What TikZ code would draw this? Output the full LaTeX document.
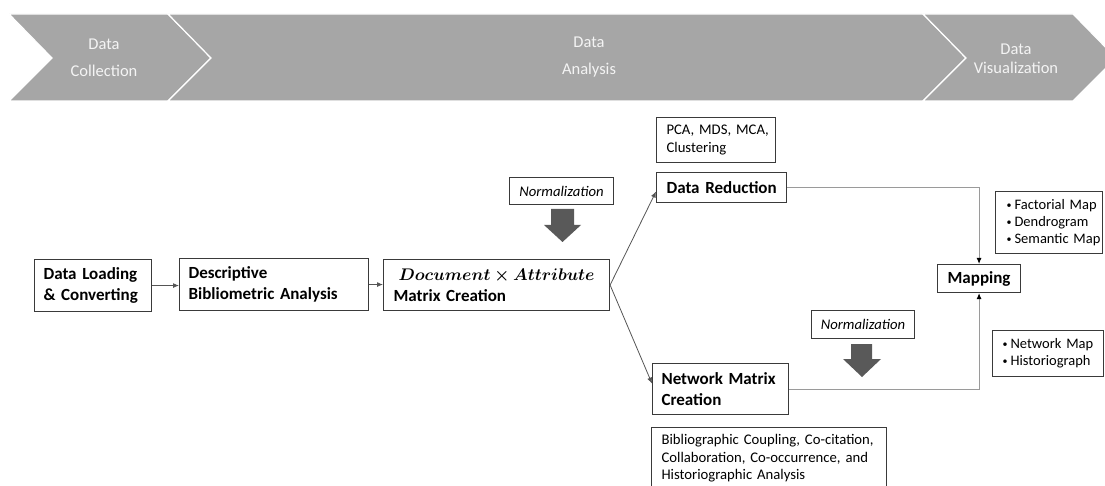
\documentclass[tikz,border=0pt]{standalone}
\usepackage{fontspec}
\setmainfont{Carlito}
\usepackage{amsmath}
\usepackage{bm}
\usepackage{graphicx}
\usetikzlibrary{arrows.meta}
\hyphenpenalty=10000
\exhyphenpenalty=10000
\newcommand{\lind}[1]{\hspace*{#1pt}}
\newcommand{\bul}{\makebox[8pt][l]{\fontsize{10}{10}\selectfont\raisebox{1pt}{\textbullet}}}
\definecolor{bannergray}{HTML}{A6A6A6}
\definecolor{bantxt}{HTML}{F4F4F4}
\definecolor{boxc}{HTML}{3A3A3A}
\definecolor{blockc}{HTML}{595959}
\definecolor{linec}{HTML}{9A9A9A}
\definecolor{darkline}{HTML}{555555}
\begin{document}
\begin{tikzpicture}[x=1pt,y=-1pt,
 box/.style={draw=boxc,line width=1.1pt,anchor=north west,inner ysep=0pt,inner xsep=2pt,align=left,text=black},
 cbox/.style={draw=boxc,line width=1.1pt,anchor=north west,inner sep=0pt,align=center,text=black},
 boldtxt/.style={font=\fontsize{17}{20.5}\selectfont\bfseries},
 regtxt/.style={font=\fontsize{14.7}{17.5}\selectfont},
 listtxt/.style={font=\fontsize{14.5}{17}\selectfont},
 ittxt/.style={font=\fontsize{14.7}{17.5}\selectfont\itshape},
 bantext/.style={text=bantxt,align=center,font=\fontsize{16.5}{27}\selectfont},
 conn/.style={draw=darkline,line width=0.8pt,-{Latex[length=6pt,width=5pt]}},
 gconn/.style={draw=linec,line width=1pt,-{Latex[length=6pt,width=5pt,color=black]}},
 chev/.style={fill=bannergray,draw=white,line width=1.2pt},
 block/.style={fill=blockc,draw=none}]
\clip (0,0) rectangle (1105,486);
\useasboundingbox (0,0) rectangle (1105,486);
% banner
\path[chev] (9,14) -- (168,14) -- (211,58) -- (168,101) -- (9,101) -- (52,58) -- cycle;
\path[chev] (168,14) -- (923,14) -- (966,58) -- (923,101) -- (168,101) -- (211,58) -- cycle;
\path[chev] (923,14) -- (1073,14) -- (1116,58) -- (1073,101) -- (923,101) -- (966,58) -- cycle;
\node[bantext] (t1) at (104,57.5) {Data\\Collection};
\node[bantext] (t2) at (589,57.5) {Data\\Analysis};
\node[bantext,font=\fontsize{16.5}{19}\selectfont] (t3) at (1016,58.5) {Data\\Visualization};
% boxes
\node[box,boldtxt,text width=113pt,minimum width=117pt,minimum height=52pt] (load) at (34,259) {\lind{7}Data Loading\\\lind{7}\& Converting};
\node[box,boldtxt,text width=185pt,minimum width=189pt,minimum height=52pt] (desc) at (179,258) {\lind{7}Descriptive\\\lind{7}Bibliometric Analysis};
\node[box,boldtxt,text width=222pt,minimum width=226pt,minimum height=51pt] (doc) at (383,259) {\lind{13}\scalebox{0.975}{\fontsize{17.28}{20.5}\selectfont$\bm{Document\times Attribute}$}\\\lind{8}Matrix Creation};
\node[cbox,ittxt,minimum width=104pt,minimum height=27pt] (norm1) at (509,177) {Normalization};
\node[box,regtxt,text width=115pt,minimum width=119pt,minimum height=45pt] (pca) at (656,117) {\lind{8}PCA, MDS, MCA,\\\lind{8}Clustering};
\node[box,boldtxt,text width=126pt,minimum width=130pt,minimum height=30pt] (red) at (656,172) {\lind{8}Data Reduction};
\node[cbox,boldtxt,minimum width=83pt,minimum height=28pt] (map) at (937,264) {Mapping};
\node[box,listtxt,text width=103pt,minimum width=107pt,minimum height=62pt] (fact) at (995,191) {\mbox{\lind{9}\bul Factorial Map}\\\mbox{\lind{9}\bul Dendrogram}\\\mbox{\lind{9}\bul Semantic Map}};
\node[box,listtxt,text width=107pt,minimum width=111pt,minimum height=46pt] (netmap) at (992,330) {\mbox{\lind{8}\bul Network Map}\\\mbox{\lind{8}\bul Historiograph}};
\node[cbox,ittxt,minimum width=103pt,minimum height=28pt] (norm2) at (811,310) {Normalization};
\node[box,boldtxt,text width=132pt,minimum width=136pt,minimum height=51pt] (net) at (652,363) {\lind{7}Network Matrix\\\lind{7}Creation};
\node[box,regtxt,text width=231pt,minimum width=235pt,minimum height=62pt] (bib) at (651,427) {\lind{8}Bibliographic Coupling, Co-citation,\\\lind{8}Collaboration, Co-occurrence, and\\\lind{8}Historiographic Analysis};
% block arrows
\path[block] (551,209) -- (574,209) -- (574,225) -- (581,225) -- (562.5,242) -- (544,225) -- (551,225) -- cycle;
\path[block] (851,344) -- (872,344) -- (872,359) -- (881,359) -- (862,377) -- (843,359) -- (851,359) -- cycle;
% connectors
\draw[conn] (load.east) -- (load.east -| desc.west);
\draw[conn] (desc.east) -- (desc.east -| doc.west);
\draw[conn] (doc.east) -- ([yshift=-4pt]red.west);
\draw[conn] (doc.east) -- ([yshift=5.5pt]net.west);
\draw[gconn] (red.east) -| (map.north);
\draw[gconn] (net.east) -| (map.south);
\end{tikzpicture}
\end{document}
